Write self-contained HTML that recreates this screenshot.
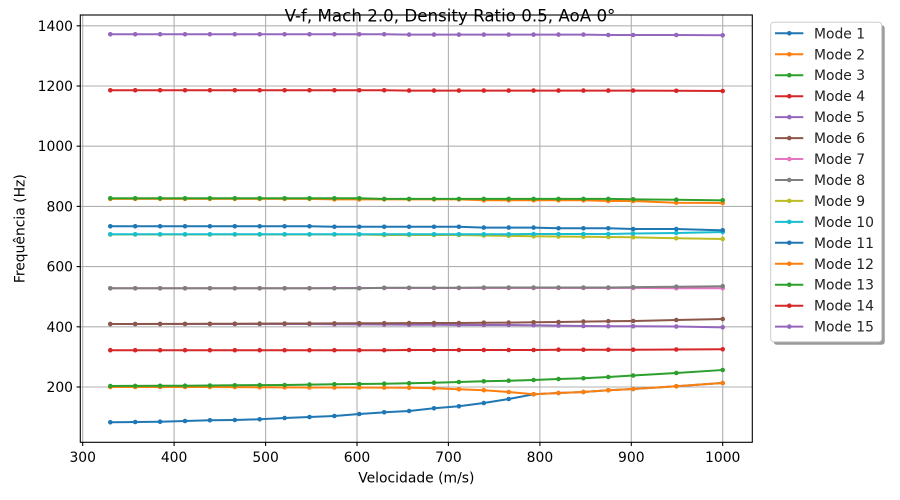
<!DOCTYPE html>
<html><head><meta charset="utf-8"><style>
html,body{margin:0;padding:0;background:#fff;}
svg{display:block;}
text{font-family:"DejaVu Sans","Liberation Sans",sans-serif;}
</style></head><body>
<svg width="900" height="500" viewBox="0 0 900 500" xmlns="http://www.w3.org/2000/svg">
<defs>
<marker id="c0" markerUnits="userSpaceOnUse" markerWidth="6" markerHeight="6" refX="3" refY="3"><circle cx="3" cy="3" r="2.3" fill="#1f77b4"/></marker>
<marker id="c1" markerUnits="userSpaceOnUse" markerWidth="6" markerHeight="6" refX="3" refY="3"><circle cx="3" cy="3" r="2.3" fill="#ff7f0e"/></marker>
<marker id="c2" markerUnits="userSpaceOnUse" markerWidth="6" markerHeight="6" refX="3" refY="3"><circle cx="3" cy="3" r="2.3" fill="#2ca02c"/></marker>
<marker id="c3" markerUnits="userSpaceOnUse" markerWidth="6" markerHeight="6" refX="3" refY="3"><circle cx="3" cy="3" r="2.3" fill="#d62728"/></marker>
<marker id="c4" markerUnits="userSpaceOnUse" markerWidth="6" markerHeight="6" refX="3" refY="3"><circle cx="3" cy="3" r="2.3" fill="#9467bd"/></marker>
<marker id="c5" markerUnits="userSpaceOnUse" markerWidth="6" markerHeight="6" refX="3" refY="3"><circle cx="3" cy="3" r="2.3" fill="#8c564b"/></marker>
<marker id="c6" markerUnits="userSpaceOnUse" markerWidth="6" markerHeight="6" refX="3" refY="3"><circle cx="3" cy="3" r="2.3" fill="#e377c2"/></marker>
<marker id="c7" markerUnits="userSpaceOnUse" markerWidth="6" markerHeight="6" refX="3" refY="3"><circle cx="3" cy="3" r="2.3" fill="#7f7f7f"/></marker>
<marker id="c8" markerUnits="userSpaceOnUse" markerWidth="6" markerHeight="6" refX="3" refY="3"><circle cx="3" cy="3" r="2.3" fill="#bcbd22"/></marker>
<marker id="c9" markerUnits="userSpaceOnUse" markerWidth="6" markerHeight="6" refX="3" refY="3"><circle cx="3" cy="3" r="2.3" fill="#17becf"/></marker>
</defs>

<!-- grid -->
<g stroke="#b0b0b0" stroke-width="1.1" fill="none">
<line x1="82.7" y1="15" x2="82.7" y2="442.3"/>
<line x1="174.1" y1="15" x2="174.1" y2="442.3"/>
<line x1="265.6" y1="15" x2="265.6" y2="442.3"/>
<line x1="357" y1="15" x2="357" y2="442.3"/>
<line x1="448.4" y1="15" x2="448.4" y2="442.3"/>
<line x1="539.9" y1="15" x2="539.9" y2="442.3"/>
<line x1="631.3" y1="15" x2="631.3" y2="442.3"/>
<line x1="722.7" y1="15" x2="722.7" y2="442.3"/>
<line x1="80.3" y1="387" x2="752.3" y2="387"/>
<line x1="80.3" y1="326.8" x2="752.3" y2="326.8"/>
<line x1="80.3" y1="266.6" x2="752.3" y2="266.6"/>
<line x1="80.3" y1="206.4" x2="752.3" y2="206.4"/>
<line x1="80.3" y1="146.2" x2="752.3" y2="146.2"/>
<line x1="80.3" y1="86" x2="752.3" y2="86"/>
<line x1="80.3" y1="25.8" x2="752.3" y2="25.8"/>
</g>

<!-- series -->
<g fill="none" stroke-width="2" stroke-linejoin="round" stroke-linecap="square">
<polyline stroke="#1f77b4" marker-start="url(#c0)" marker-mid="url(#c0)" marker-end="url(#c0)" points="110.3,422.3 135.2,422 160.1,421.7 185,421 209.9,420.3 234.8,420 259.7,419.3 284.6,418 309.5,417 334.4,416 359.3,414 384.2,412.3 409.1,411 434,408.3 458.9,406.3 483.8,403 508.7,399 533.6,394.3 558.5,393 583.4,392 608.3,390.3 633.2,389 676.3,386.3 722.7,383"/>
<polyline stroke="#ff7f0e" marker-start="url(#c1)" marker-mid="url(#c1)" marker-end="url(#c1)" points="110.3,387 135.2,387 160.1,387 185,387 209.9,387 234.8,387.1 259.7,387.3 284.6,387.4 309.5,387.5 334.4,387.5 359.3,387.5 384.2,387.6 409.1,387.8 434,388.3 458.9,389.3 483.8,390.2 508.7,392 533.6,394.3 558.5,393 583.4,392 608.3,390.3 633.2,389 676.3,386.3 722.7,383"/>
<polyline stroke="#2ca02c" marker-start="url(#c2)" marker-mid="url(#c2)" marker-end="url(#c2)" points="110.3,386 135.2,385.9 160.1,385.8 185,385.7 209.9,385.5 234.8,385.3 259.7,385.1 284.6,385 309.5,384.6 334.4,384.2 359.3,384 384.2,383.7 409.1,383.2 434,382.7 458.9,382 483.8,381.3 508.7,380.7 533.6,380 558.5,379 583.4,378.3 608.3,377 633.2,375.5 676.3,373 722.7,370"/>
<polyline stroke="#d62728" marker-start="url(#c3)" marker-mid="url(#c3)" marker-end="url(#c3)" points="110.3,350.2 135.2,350.2 160.1,350.2 185,350.2 209.9,350.2 234.8,350.2 259.7,350.2 284.6,350.2 309.5,350.2 334.4,350.2 359.3,350.2 384.2,350.2 409.1,350 434,350 458.9,350 483.8,350 508.7,350 533.6,350 558.5,349.7 583.4,349.7 608.3,349.7 633.2,349.7 676.3,349.5 722.7,349.3"/>
<polyline stroke="#9467bd" marker-start="url(#c4)" marker-mid="url(#c4)" marker-end="url(#c4)" points="110.3,324 135.2,324 160.1,324 185,324 209.9,324 234.8,324 259.7,324 284.6,324 309.5,324 334.4,324.2 359.3,324.4 384.2,324.5 409.1,324.7 434,324.8 458.9,325 483.8,325 508.7,325 533.6,325.2 558.5,325.6 583.4,326 608.3,326.3 633.2,326.3 676.3,326.5 722.7,327.3"/>
<polyline stroke="#8c564b" marker-start="url(#c5)" marker-mid="url(#c5)" marker-end="url(#c5)" points="110.3,324 135.2,324 160.1,323.9 185,323.9 209.9,323.8 234.8,323.7 259.7,323.6 284.6,323.5 309.5,323.5 334.4,323.4 359.3,323.3 384.2,323.2 409.1,323.1 434,323 458.9,323 483.8,322.7 508.7,322.6 533.6,322.3 558.5,322 583.4,321.6 608.3,321.2 633.2,321 676.3,320 722.7,319"/>
<polyline stroke="#e377c2" marker-start="url(#c6)" marker-mid="url(#c6)" marker-end="url(#c6)" points="110.3,288.3 135.2,288.3 160.1,288.3 185,288.3 209.9,288.3 234.8,288.3 259.7,288.3 284.6,288.3 309.5,288.3 334.4,288 359.3,288 384.2,288 409.1,288 434,288 458.9,288 483.8,288 508.7,288 533.6,288 558.5,288 583.4,288 608.3,288 633.2,288 676.3,288.2 722.7,288.3"/>
<polyline stroke="#7f7f7f" marker-start="url(#c7)" marker-mid="url(#c7)" marker-end="url(#c7)" points="110.3,288.3 135.2,288.3 160.1,288.3 185,288.3 209.9,288.3 234.8,288.3 259.7,288.3 284.6,288.3 309.5,288.3 334.4,288.3 359.3,288.3 384.2,287.8 409.1,287.8 434,287.8 458.9,287.8 483.8,287.5 508.7,287.5 533.6,287.5 558.5,287.5 583.4,287.5 608.3,287.5 633.2,287.2 676.3,286.7 722.7,286.2"/>
<polyline stroke="#bcbd22" marker-start="url(#c8)" marker-mid="url(#c8)" marker-end="url(#c8)" points="110.3,234.5 135.2,234.5 160.1,234.5 185,234.5 209.9,234.5 234.8,234.5 259.7,234.5 284.6,234.5 309.5,234.5 334.4,234.5 359.3,234.5 384.2,235 409.1,235 434,235 458.9,235 483.8,235.5 508.7,235.9 533.6,236.3 558.5,236.5 583.4,236.8 608.3,237 633.2,237.3 676.3,238.3 722.7,239"/>
<polyline stroke="#17becf" marker-start="url(#c9)" marker-mid="url(#c9)" marker-end="url(#c9)" points="110.3,234.3 135.2,234.3 160.1,234.3 185,234.3 209.9,234.3 234.8,234.3 259.7,234.3 284.6,234.3 309.5,234.3 334.4,234.3 359.3,234.3 384.2,234.3 409.1,234.3 434,234.3 458.9,234.3 483.8,234.3 508.7,234.3 533.6,234 558.5,234 583.4,234 608.3,234 633.2,233.5 676.3,233 722.7,232"/>
<polyline stroke="#1f77b4" marker-start="url(#c0)" marker-mid="url(#c0)" marker-end="url(#c0)" points="110.3,226.3 135.2,226.3 160.1,226.3 185,226.3 209.9,226.3 234.8,226.3 259.7,226.3 284.6,226.3 309.5,226.3 334.4,226.8 359.3,226.8 384.2,226.8 409.1,226.8 434,226.8 458.9,226.8 483.8,227.6 508.7,227.6 533.6,227.6 558.5,228.3 583.4,228.3 608.3,228.3 633.2,229 676.3,229 722.7,230.3"/>
<polyline stroke="#ff7f0e" marker-start="url(#c1)" marker-mid="url(#c1)" marker-end="url(#c1)" points="110.3,198.9 135.2,198.9 160.1,198.9 185,198.9 209.9,198.9 234.8,198.9 259.7,198.9 284.6,198.9 309.5,198.9 334.4,199.4 359.3,199.4 384.2,199.4 409.1,199.4 434,199.4 458.9,199.4 483.8,200.3 508.7,200.3 533.6,200.3 558.5,200.3 583.4,200.3 608.3,201 633.2,201 676.3,202.7 722.7,203"/>
<polyline stroke="#2ca02c" marker-start="url(#c2)" marker-mid="url(#c2)" marker-end="url(#c2)" points="110.3,198.3 135.2,198.3 160.1,198.3 185,198.3 209.9,198.3 234.8,198.3 259.7,198.3 284.6,198.3 309.5,198.3 334.4,198.3 359.3,198.3 384.2,198.9 409.1,198.9 434,198.9 458.9,198.9 483.8,198.9 508.7,198.9 533.6,198.9 558.5,198.9 583.4,198.9 608.3,198.9 633.2,199.3 676.3,199.7 722.7,200.3"/>
<polyline stroke="#d62728" marker-start="url(#c3)" marker-mid="url(#c3)" marker-end="url(#c3)" points="110.3,90.3 135.2,90.3 160.1,90.3 185,90.3 209.9,90.3 234.8,90.3 259.7,90.3 284.6,90.3 309.5,90.3 334.4,90.3 359.3,90.3 384.2,90.3 409.1,90.6 434,90.6 458.9,90.6 483.8,90.6 508.7,90.6 533.6,90.6 558.5,90.6 583.4,90.6 608.3,90.6 633.2,90.6 676.3,90.8 722.7,91"/>
<polyline stroke="#9467bd" marker-start="url(#c4)" marker-mid="url(#c4)" marker-end="url(#c4)" points="110.3,34.3 135.2,34.3 160.1,34.3 185,34.3 209.9,34.3 234.8,34.3 259.7,34.3 284.6,34.3 309.5,34.3 334.4,34.3 359.3,34.3 384.2,34.3 409.1,34.6 434,34.6 458.9,34.6 483.8,34.6 508.7,34.6 533.6,34.6 558.5,34.6 583.4,34.6 608.3,35 633.2,35 676.3,35 722.7,35.3"/>
</g>

<!-- spines -->
<rect x="80.3" y="15" width="672" height="427.3" fill="none" stroke="#000" stroke-width="1.1"/>

<!-- ticks -->
<g stroke="#000" stroke-width="1.1">
<line x1="82.7" y1="442.3" x2="82.7" y2="446"/>
<line x1="174.1" y1="442.3" x2="174.1" y2="446"/>
<line x1="265.6" y1="442.3" x2="265.6" y2="446"/>
<line x1="357" y1="442.3" x2="357" y2="446"/>
<line x1="448.4" y1="442.3" x2="448.4" y2="446"/>
<line x1="539.9" y1="442.3" x2="539.9" y2="446"/>
<line x1="631.3" y1="442.3" x2="631.3" y2="446"/>
<line x1="722.7" y1="442.3" x2="722.7" y2="446"/>
<line x1="76.6" y1="387" x2="80.3" y2="387"/>
<line x1="76.6" y1="326.8" x2="80.3" y2="326.8"/>
<line x1="76.6" y1="266.6" x2="80.3" y2="266.6"/>
<line x1="76.6" y1="206.4" x2="80.3" y2="206.4"/>
<line x1="76.6" y1="146.2" x2="80.3" y2="146.2"/>
<line x1="76.6" y1="86" x2="80.3" y2="86"/>
<line x1="76.6" y1="25.8" x2="80.3" y2="25.8"/>
</g>

<g font-size="13.9" fill="#000" text-anchor="middle">
<text x="82.7" y="462">300</text>
<text x="174.1" y="462">400</text>
<text x="265.6" y="462">500</text>
<text x="357" y="462">600</text>
<text x="448.4" y="462">700</text>
<text x="539.9" y="462">800</text>
<text x="631.3" y="462">900</text>
<text x="722.7" y="462">1000</text>
</g>
<g font-size="13.9" fill="#000" text-anchor="end">
<text x="73" y="392">200</text>
<text x="73" y="331.8">400</text>
<text x="73" y="271.6">600</text>
<text x="73" y="211.4">800</text>
<text x="73" y="151.2">1000</text>
<text x="73" y="91">1200</text>
<text x="73" y="30.8">1400</text>
</g>

<text x="416.3" y="482.7" font-size="13.9" text-anchor="middle" fill="#000">Velocidade (m/s)</text>
<text x="24.5" y="228.7" font-size="13.9" text-anchor="middle" fill="#000" transform="rotate(-90 24.5 228.7)">Frequência (Hz)</text>
<text x="450" y="21.5" font-size="16.7" text-anchor="middle" fill="#000">V-f, Mach 2.0, Density Ratio 0.5, AoA 0°</text>

<!-- legend -->
<rect x="773.7" y="25.3" width="111" height="319.4" rx="3" fill="#9a9a9a"/>
<rect x="770.7" y="22.3" width="111" height="319.4" rx="3" fill="#fff" stroke="#cccccc" stroke-width="1"/>
<g stroke-width="2">
<line x1="775" y1="33.3" x2="803.3" y2="33.3" stroke="#1f77b4"/>
<line x1="775" y1="54.3" x2="803.3" y2="54.3" stroke="#ff7f0e"/>
<line x1="775" y1="75.2" x2="803.3" y2="75.2" stroke="#2ca02c"/>
<line x1="775" y1="96.2" x2="803.3" y2="96.2" stroke="#d62728"/>
<line x1="775" y1="117.1" x2="803.3" y2="117.1" stroke="#9467bd"/>
<line x1="775" y1="138.1" x2="803.3" y2="138.1" stroke="#8c564b"/>
<line x1="775" y1="159" x2="803.3" y2="159" stroke="#e377c2"/>
<line x1="775" y1="180" x2="803.3" y2="180" stroke="#7f7f7f"/>
<line x1="775" y1="200.9" x2="803.3" y2="200.9" stroke="#bcbd22"/>
<line x1="775" y1="221.9" x2="803.3" y2="221.9" stroke="#17becf"/>
<line x1="775" y1="242.8" x2="803.3" y2="242.8" stroke="#1f77b4"/>
<line x1="775" y1="263.8" x2="803.3" y2="263.8" stroke="#ff7f0e"/>
<line x1="775" y1="284.7" x2="803.3" y2="284.7" stroke="#2ca02c"/>
<line x1="775" y1="305.7" x2="803.3" y2="305.7" stroke="#d62728"/>
<line x1="775" y1="326.6" x2="803.3" y2="326.6" stroke="#9467bd"/>
</g>
<g>
<circle cx="789.3" cy="33.3" r="2.3" fill="#1f77b4"/>
<circle cx="789.3" cy="54.3" r="2.3" fill="#ff7f0e"/>
<circle cx="789.3" cy="75.2" r="2.3" fill="#2ca02c"/>
<circle cx="789.3" cy="96.2" r="2.3" fill="#d62728"/>
<circle cx="789.3" cy="117.1" r="2.3" fill="#9467bd"/>
<circle cx="789.3" cy="138.1" r="2.3" fill="#8c564b"/>
<circle cx="789.3" cy="159" r="2.3" fill="#e377c2"/>
<circle cx="789.3" cy="180" r="2.3" fill="#7f7f7f"/>
<circle cx="789.3" cy="200.9" r="2.3" fill="#bcbd22"/>
<circle cx="789.3" cy="221.9" r="2.3" fill="#17becf"/>
<circle cx="789.3" cy="242.8" r="2.3" fill="#1f77b4"/>
<circle cx="789.3" cy="263.8" r="2.3" fill="#ff7f0e"/>
<circle cx="789.3" cy="284.7" r="2.3" fill="#2ca02c"/>
<circle cx="789.3" cy="305.7" r="2.3" fill="#d62728"/>
<circle cx="789.3" cy="326.6" r="2.3" fill="#9467bd"/>
</g>
<g font-size="13.9" fill="#222">
<text x="814" y="38.3">Mode 1</text>
<text x="814" y="59.3">Mode 2</text>
<text x="814" y="80.2">Mode 3</text>
<text x="814" y="101.2">Mode 4</text>
<text x="814" y="122.1">Mode 5</text>
<text x="814" y="143.1">Mode 6</text>
<text x="814" y="164">Mode 7</text>
<text x="814" y="185">Mode 8</text>
<text x="814" y="205.9">Mode 9</text>
<text x="814" y="226.9">Mode 10</text>
<text x="814" y="247.8">Mode 11</text>
<text x="814" y="268.8">Mode 12</text>
<text x="814" y="289.7">Mode 13</text>
<text x="814" y="310.7">Mode 14</text>
<text x="814" y="331.6">Mode 15</text>
</g>
</svg>
</body></html>
